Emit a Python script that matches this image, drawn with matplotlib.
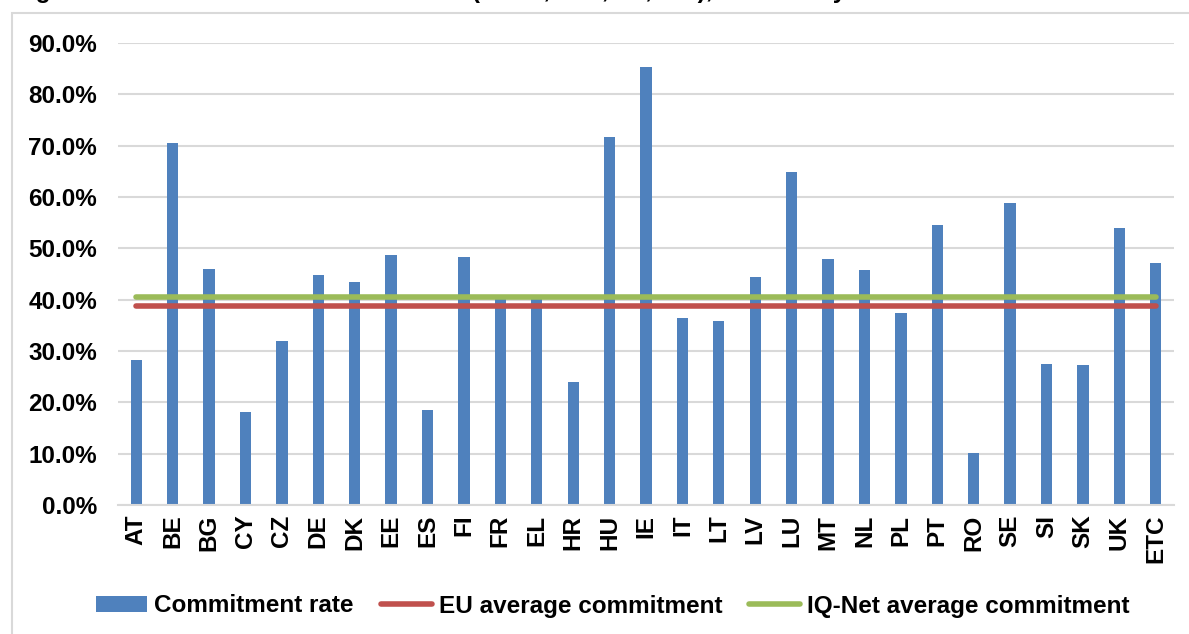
import matplotlib
matplotlib.use("Agg")
import matplotlib.pyplot as plt
from matplotlib.patches import Rectangle
from matplotlib.ticker import FuncFormatter, MultipleLocator

countries = ["AT", "BE", "BG", "CY", "CZ", "DE", "DK", "EE", "ES", "FI",
             "FR", "EL", "HR", "HU", "IE", "IT", "LT", "LV", "LU", "MT",
             "NL", "PL", "PT", "RO", "SE", "SI", "SK", "UK", "ETC"]
commitment_rate = [28.2, 70.6, 46.0, 18.2, 31.9, 44.8, 43.4, 48.7, 18.6, 48.3,
                   40.2, 40.3, 23.9, 71.6, 85.4, 36.4, 35.8, 44.4, 64.8, 48.0,
                   45.8, 37.4, 54.6, 10.2, 58.9, 27.4, 27.3, 54.0, 47.1]
eu_average = 38.8
iqnet_average = 40.6

title_text = "Figure 3: ESIF commitment rates in MS (ERDF, ESF, CF, YEI), end of May 2017"

BLUE = "#4F81BD"
RED = "#C0504D"
GREEN = "#9BBB59"
GRID = "#D9D9D9"
FS = 17.5

plt.rcParams["font.family"] = ["Liberation Sans", "DejaVu Sans"]
plt.rcParams["font.weight"] = "bold"

W, H = 1189, 634
fig = plt.figure(figsize=(W / 100, H / 100), dpi=100)

# chart-area frame
fig.patches.append(Rectangle((12 / W, -0.2), 1.2, 1 - 13 / H + 0.2,
                             transform=fig.transFigure, fill=False,
                             edgecolor=GRID, linewidth=1.5, zorder=0))
# title sits above the frame, mostly outside the canvas
fig.text(14 / W, 1 + 2 / H, title_text, fontsize=FS, fontweight="bold",
         va="baseline", ha="left")

ax = fig.add_axes([118 / W, 1 - 505 / H, (1174 - 118) / W, (505 - 43) / H])

x = list(range(len(countries)))
ax.bar(x, commitment_rate, width=0.31, color=BLUE, zorder=2,
       label="Commitment rate")
ax.plot([x[0], x[-1]], [eu_average] * 2, color=RED, linewidth=4,
        solid_capstyle="round", zorder=3, label="EU average commitment")
ax.plot([x[0], x[-1]], [iqnet_average] * 2, color=GREEN, linewidth=4,
        solid_capstyle="round", zorder=3, label="IQ-Net average commitment")

ax.set_xlim(-0.5, len(countries) - 0.5)
ax.set_ylim(0, 90)
ax.yaxis.set_major_locator(MultipleLocator(10))
ax.yaxis.set_major_formatter(FuncFormatter(lambda v, p: f"{v:.1f}%"))
ax.grid(axis="y", color=GRID, linewidth=1.5, zorder=0)
ax.set_axisbelow(True)

for s in ["top", "right", "left"]:
    ax.spines[s].set_visible(False)
ax.spines["bottom"].set_color(GRID)
ax.spines["bottom"].set_linewidth(1.5)

ax.set_xticks(x)
ax.set_xticklabels(countries, rotation=90, fontsize=FS, fontweight="bold")
ax.tick_params(axis="x", length=0, pad=7)
ax.tick_params(axis="y", length=0, pad=15, labelsize=FS)
for t in ax.get_yticklabels():
    t.set_fontweight("bold")

handles, labels = ax.get_legend_handles_labels()
order = [2, 0, 1]
leg = fig.legend([handles[i] for i in order], [labels[i] for i in order],
                 loc="center", bbox_to_anchor=(613 / W, 1 - 606 / H), ncol=3,
                 frameon=False, fontsize=FS, handlelength=2.1,
                 handletextpad=0.3, columnspacing=1.1, handleheight=0.6)
for t in leg.get_texts():
    t.set_fontweight("bold")

fig.savefig("out.png", dpi=100)
